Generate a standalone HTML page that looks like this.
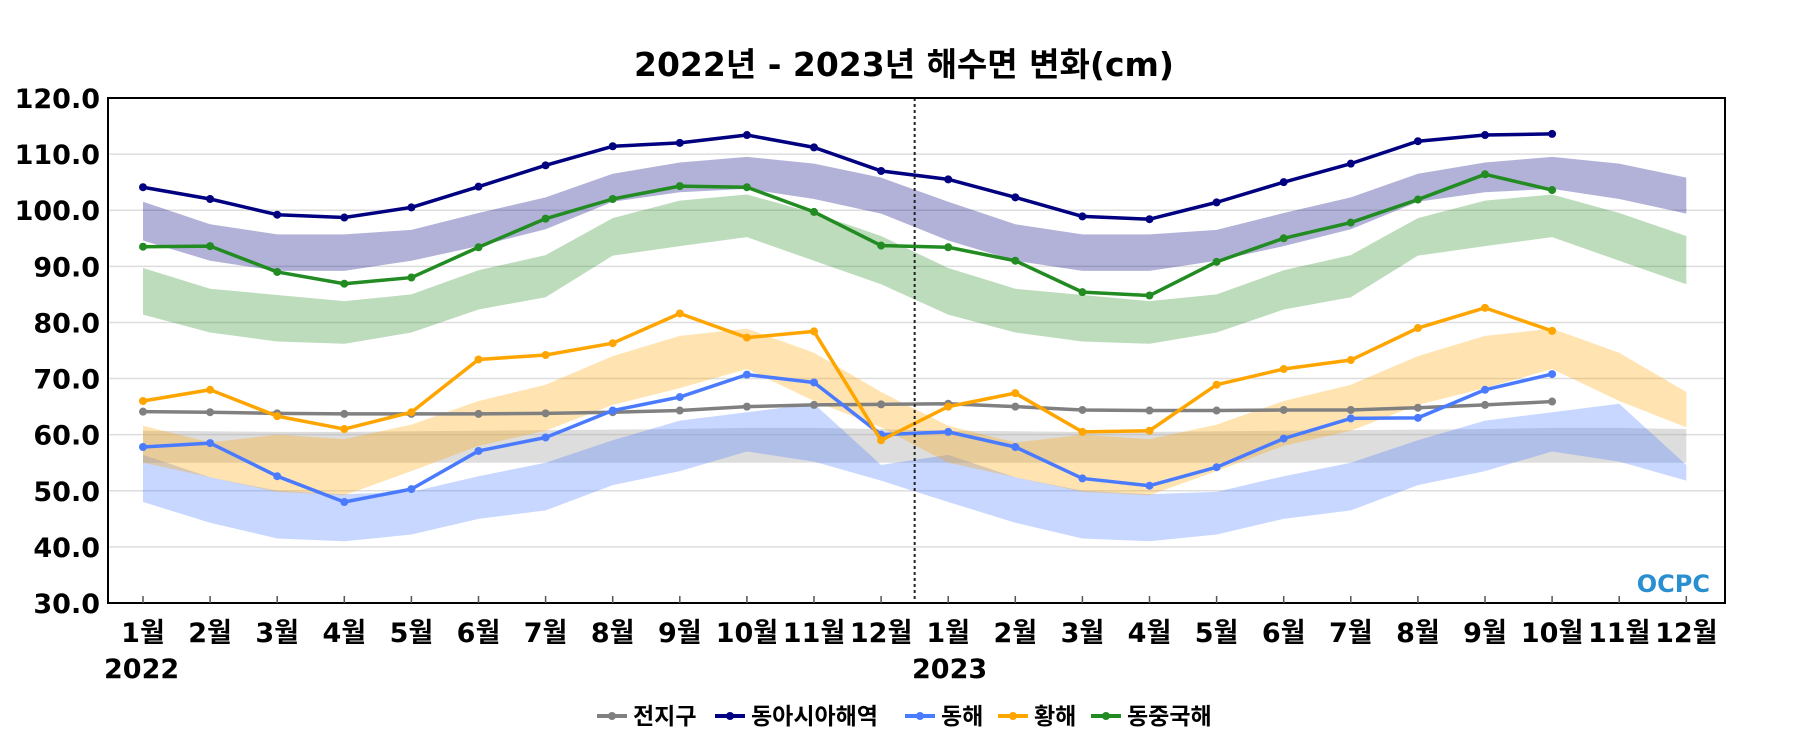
<!DOCTYPE html>
<html><head><meta charset="utf-8"><style>
html,body{margin:0;padding:0;background:#fff;}
svg{display:block;font-family:"DejaVu Sans","Liberation Sans","Noto Sans CJK KR",sans-serif;}
</style></head><body>
<svg id="chart" width="1800" height="750" viewBox="0 0 1800 750">
<text x="904" y="76" text-anchor="middle" font-size="33" font-weight="bold" fill="#000">2022년 - 2023년 해수면 변화(cm)</text>
<g id="grid"></g><g id="bands"></g><g id="lines"></g><g id="axes"></g><g id="legend"></g>
<text x="1710" y="592" text-anchor="end" font-size="24" font-weight="bold" fill="#2a8fd0">OCPC</text>
</svg>
<script>
const months = ["1월","2월","3월","4월","5월","6월","7월","8월","9월","10월","11월","12월"];
const years = ["2022","2023"];
const yTicks = [30,40,50,60,70,80,90,100,110,120];
const seriesNames = ["전지구","동아시아해역","동해","황해","동중국해"];
const seriesColors = ["#808080","#000080","#4a7bff","#ffa500","#228b22"];
const globalVals = [64.1,64.0,63.8,63.7,63.7,63.7,63.8,64.0,64.3,65.0,65.3,65.4,65.5,65.0,64.4,64.3,64.3,64.4,64.4,64.8,65.3,65.9];
const eastAsiaVals = [104.1,102.0,99.2,98.7,100.5,104.2,108.0,111.4,112.0,113.4,111.2,107.0,105.5,102.3,98.9,98.4,101.4,105.0,108.3,112.3,113.4,113.6];
const eastSeaVals = [57.8,58.5,52.6,48.0,50.3,57.1,59.5,64.3,66.7,70.7,69.3,60.0,60.5,57.8,52.2,50.9,54.2,59.3,62.9,63.0,68.0,70.8];
const yellowSeaVals = [66.0,68.0,63.3,61.0,64.0,73.4,74.2,76.3,81.6,77.3,78.4,59.0,65.0,67.4,60.5,60.7,68.9,71.7,73.3,79.0,82.6,78.5];
const ecsVals = [93.5,93.6,89.0,86.9,88.0,93.4,98.5,102.0,104.3,104.1,99.7,93.7,93.4,91.0,85.4,84.8,90.8,95.0,97.8,101.9,106.4,103.6];
const globalHi = [60.7,60.6,60.5,60.5,60.6,60.7,60.8,60.9,61.0,61.2,61.2,61.0];
const globalLo = [55.0,55.0,55.0,55.0,55.0,55.0,55.0,55.0,55.0,55.0,55.0,55.0];
const eastAsiaHi = [101.5,97.5,95.7,95.7,96.5,99.5,102.3,106.5,108.5,109.5,108.3,105.8];
const eastAsiaLo = [94.6,91.0,89.2,89.2,91.0,93.6,96.6,101.5,103.2,103.8,102.0,99.4];
const eastSeaHi = [56.4,52.4,50.0,49.4,49.8,52.6,55.0,59.0,62.5,64.0,65.5,54.6];
const eastSeaLo = [48.0,44.3,41.5,41.0,42.2,45.0,46.5,51.0,53.5,57.0,55.2,51.8];
const yellowSeaHi = [61.6,58.6,60.0,59.2,61.8,66.0,68.9,74.0,77.6,78.9,74.6,67.6];
const yellowSeaLo = [55.0,52.4,49.8,49.2,53.5,58.0,60.7,65.3,68.3,71.7,66.0,61.3];
const ecsHi = [89.7,86.0,84.9,83.8,85.0,89.3,92.0,98.6,101.7,102.8,99.5,95.4];
const ecsLo = [81.4,78.2,76.6,76.2,78.2,82.3,84.5,91.9,93.6,95.2,91.0,86.8];

const NS="http://www.w3.org/2000/svg";
const L=108,R=1725,T=98,B=603,X0=143,DX=67.1;
const xs=i=>X0+i*DX;
const ys=v=>B-(v-30)/90*(B-T);
function mk(tag,attrs,parent){const e=document.createElementNS(NS,tag);for(const k in attrs)e.setAttribute(k,attrs[k]);parent.appendChild(e);return e;}
const g=id=>document.getElementById(id);

yTicks.forEach(v=>{
  if(v>30&&v<120){const l=mk('line',{x1:L,x2:R,y1:ys(v),y2:ys(v),stroke:'#ddd','stroke-width':1.5},g('grid'));
  
  }
  const t=mk('text',{x:100,y:ys(v)+10,'text-anchor':'end','font-size':27,'font-weight':'bold'},g('axes'));
  t.textContent=v.toFixed(1);
  
  
});

const bands=[[globalHi,globalLo,'rgba(170,170,170,0.4)'],[eastAsiaHi,eastAsiaLo,'rgba(0,0,128,0.3)'],[eastSeaHi,eastSeaLo,'rgba(74,123,255,0.3)'],[yellowSeaHi,yellowSeaLo,'rgba(255,165,0,0.3)'],[ecsHi,ecsLo,'rgba(34,139,34,0.3)']];
const bandNames=['global-band','east-asia-band','east-sea-band','yellow-sea-band','ecs-band'];
bands.forEach((b,bi)=>{
  let pts=[];
  for(let i=0;i<24;i++)pts.push(xs(i)+','+ys(b[0][i%12]));
  for(let i=23;i>=0;i--)pts.push(xs(i)+','+ys(b[1][i%12]));
  const p=mk('polygon',{points:pts.join(' '),fill:b[2]},g('bands'));
  
  
});

const vl=mk('line',{x1:(xs(11)+xs(12))/2,x2:(xs(11)+xs(12))/2,y1:T,y2:B,stroke:'#222','stroke-width':2,'stroke-dasharray':'3,3'},g('axes'));



const series=[globalVals,eastAsiaVals,eastSeaVals,yellowSeaVals,ecsVals];
const lineNames=['global-line','east-asia-line','east-sea-line','yellow-sea-line','ecs-line'];
series.forEach((s,si)=>{
  const p=mk('polyline',{points:s.map((v,i)=>xs(i)+','+ys(v)).join(' '),fill:'none',stroke:seriesColors[si],'stroke-width':3.5,'stroke-linejoin':'round'},g('lines'));
  
  
  s.forEach((v,i)=>{const c=mk('circle',{cx:xs(i),cy:ys(v),r:4,fill:seriesColors[si]},g('lines'));
  
  });
});

const frame=mk('rect',{x:L,y:T,width:R-L,height:B-T,fill:'none',stroke:'#000','stroke-width':2},g('axes'));


for(let i=0;i<24;i++){
  const tk=mk('line',{x1:xs(i),x2:xs(i),y1:B,y2:B-7,stroke:'#555','stroke-width':1.5},g('axes'));
  
  
  const t=mk('text',{x:xs(i),y:642,'text-anchor':'middle','font-size':27,'font-weight':'bold'},g('axes'));
  t.textContent=months[i%12];
  
  
}
years.forEach((y,i)=>{const t=mk('text',{x:i?912:104,y:678,'font-size':27,'font-weight':'bold'},g('axes'));
  t.textContent=y;
  
  });

const legX=[597,715,905,998,1091];
seriesNames.forEach((n,i)=>{
  const x=legX[i];
  const it=mk('g',{},g('legend'));
  
  
  mk('line',{x1:x,x2:x+30,y1:716,y2:716,stroke:seriesColors[i],'stroke-width':4},it);
  mk('circle',{cx:x+15,cy:716,r:4,fill:seriesColors[i]},it);
  const t=mk('text',{x:x+36,y:724,'font-size':23,'font-weight':'bold'},it);
  t.textContent=n;
});
</script>
</body></html>
